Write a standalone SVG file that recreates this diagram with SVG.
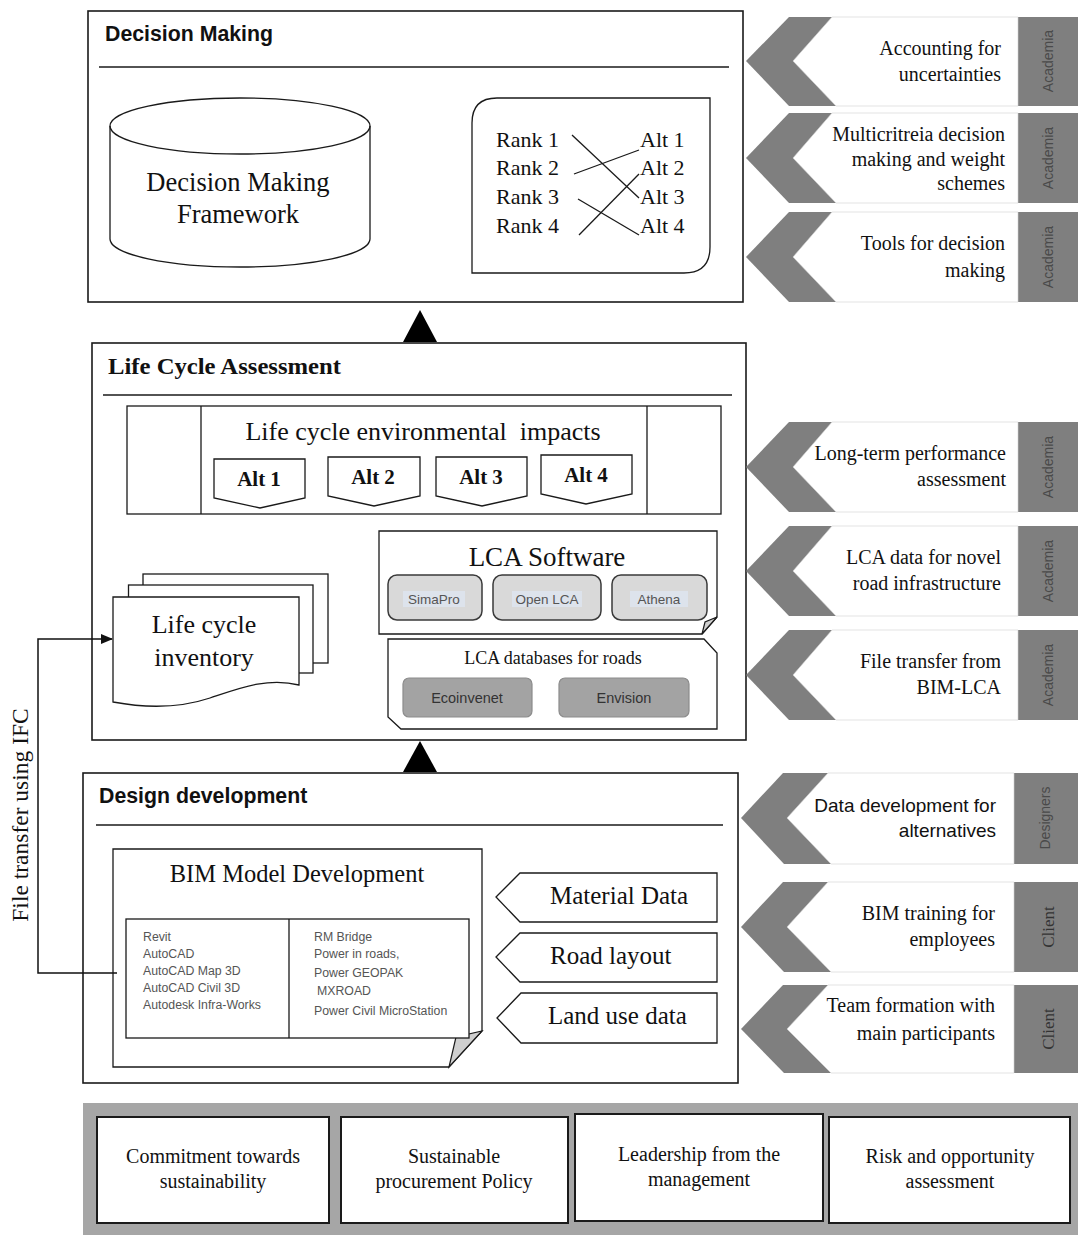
<svg xmlns="http://www.w3.org/2000/svg" width="1078" height="1235" viewBox="0 0 1078 1235">
  <defs>
    <marker id="arrowhead" markerWidth="12" markerHeight="10" refX="11" refY="5" orient="auto" markerUnits="userSpaceOnUse">
      <path d="M0,0 L12,5 L0,10 Z" fill="#111"/>
    </marker>
  </defs>
  <style>
    .box{fill:#fff;stroke:#1a1a1a;stroke-width:1.6}
    .thin{fill:#fff;stroke:#1a1a1a;stroke-width:1.3}
    .rule{stroke:#1a1a1a;stroke-width:1.5}
    .serif{font-family:"Liberation Serif","Times New Roman",serif;fill:#111}
    .title{font-family:"Liberation Sans",Arial,sans-serif;font-weight:bold;font-size:21.3px;fill:#111}
    .btitle{font-family:"Liberation Serif","Times New Roman",serif;font-weight:bold;font-size:23.5px;fill:#111}
    .mid{text-anchor:middle}
    .chev{fill:#7f7f7f}
    .side{fill:#a6a6a6}
    .card{fill:#fff;stroke:#d0d0d0;stroke-width:0.6}
    .ctext{font-family:"Liberation Serif","Times New Roman",serif;font-size:20px;fill:#111;text-anchor:end}
    .csans{font-family:"Liberation Sans",Arial,sans-serif;font-size:19px;fill:#111;text-anchor:end}
    .role{font-family:"Liberation Sans",Arial,sans-serif;font-size:14px;fill:#4a4a4a;text-anchor:middle}
    .rolecl{font-family:"Liberation Serif","Times New Roman",serif;font-size:17px;fill:#333;text-anchor:middle}
    .rank{font-family:"Liberation Serif","Times New Roman",serif;font-size:22px;fill:#111}
    .sw{fill:#d9d9d9;stroke:#3a3a3a;stroke-width:1.5}
    .hl{fill:#dde3ec}
    .swt{font-family:"Liberation Sans",Arial,sans-serif;font-size:13.5px;fill:#555;text-anchor:middle}
    .db{fill:#a3a3a3;stroke:#8c8c8c;stroke-width:1.2}
    .dbt{font-family:"Liberation Sans",Arial,sans-serif;font-size:14.5px;fill:#333;text-anchor:middle}
    .list{font-family:"Liberation Sans",Arial,sans-serif;font-size:12.3px;fill:#555}
    .altt{font-family:"Liberation Serif","Times New Roman",serif;font-weight:bold;font-size:21px;fill:#111;text-anchor:middle}
    .fold{fill:#cfcfcf;stroke:#1a1a1a;stroke-width:1.2}
    .btm{fill:#fff;stroke:#1a1a1a;stroke-width:2}
    .btext{font-family:"Liberation Serif","Times New Roman",serif;font-size:20px;fill:#111;text-anchor:middle}
  </style>

  <rect x="0" y="0" width="1078" height="1235" fill="#fff"/>

  <!-- Decision making stage -->
  <g id="decision-making">
    <rect class="box" x="88" y="11" width="655" height="291"/>
    <text class="title" x="105" y="41">Decision Making</text>
    <line class="rule" x1="99" y1="67" x2="729" y2="67"/>
  </g>

  <g id="decision-framework">
    <path class="thin" d="M110,126 A130,28 0 0 1 370,126 V239 A130,28 0 0 1 110,239 Z"/>
    <path d="M110,126 A130,28 0 0 0 370,126" fill="none" stroke="#1a1a1a" stroke-width="1.3"/>
    <text class="serif mid" x="238" y="191" font-size="26.5">Decision Making</text>
    <text class="serif mid" x="238" y="223" font-size="26.5">Framework</text>
  </g>

  <g id="ranking">
    <path class="thin" d="M472,273 V123 Q472,98 497,98 H710 V247 Q710,273 684,273 Z"/>
    <text class="rank" x="496" y="147">Rank 1</text>
    <text class="rank" x="496" y="175">Rank 2</text>
    <text class="rank" x="496" y="204">Rank 3</text>
    <text class="rank" x="496" y="233">Rank 4</text>
    <text class="rank" x="640" y="147">Alt 1</text>
    <text class="rank" x="640" y="175">Alt 2</text>
    <text class="rank" x="640" y="204">Alt 3</text>
    <text class="rank" x="640" y="233">Alt 4</text>
    <g stroke="#1a1a1a" stroke-width="1.3">
      <line x1="572" y1="135" x2="639" y2="198"/>
      <line x1="574" y1="174" x2="639" y2="150"/>
      <line x1="578" y1="199" x2="639" y2="235"/>
      <line x1="579" y1="235" x2="639" y2="174"/>
    </g>
  </g>

  <!-- Life cycle assessment stage -->
  <g id="life-cycle-assessment">
    <rect class="box" x="92" y="343" width="654" height="397"/>
    <text class="btitle" x="108" y="374" textLength="233" lengthAdjust="spacingAndGlyphs">Life Cycle Assessment</text>
    <line class="rule" x1="103" y1="395" x2="732" y2="395"/>
  </g>

  <g id="environmental-impacts">
    <rect class="thin" x="127" y="406" width="594" height="108"/>
    <line x1="201" y1="406" x2="201" y2="514" stroke="#1a1a1a" stroke-width="1.3"/>
    <line x1="647" y1="406" x2="647" y2="514" stroke="#1a1a1a" stroke-width="1.3"/>
    <text class="serif mid" x="423" y="440" font-size="26">Life cycle environmental&#160; impacts</text>
    <path class="thin" d="M214,459 H305 V498 L260,508 L214,498 Z"/>
    <path class="thin" d="M328,457 H420 V496 L374,506 L328,496 Z"/>
    <path class="thin" d="M436,457 H527 V496 L482,506 L436,496 Z"/>
    <path class="thin" d="M541,455 H632 V494 L586,504 L541,494 Z"/>
    <text class="altt" x="259" y="486">Alt 1</text>
    <text class="altt" x="373" y="484">Alt 2</text>
    <text class="altt" x="481" y="484">Alt 3</text>
    <text class="altt" x="586" y="482">Alt 4</text>
  </g>

  <g id="lca-software">
    <path class="thin" d="M379,531 H717 V617 L702,634 H379 Z"/>
    <path class="fold" d="M717,617 L702,634 L705,622 Z"/>
    <text class="serif mid" x="547" y="566" font-size="27">LCA Software</text>
    <rect class="sw" x="388" y="575" width="94" height="45" rx="9"/>
    <rect class="sw" x="493" y="575" width="108" height="45" rx="9"/>
    <rect class="sw" x="612" y="575" width="95" height="45" rx="9"/>
    <rect class="hl" x="403" y="591" width="62" height="16"/>
    <rect class="hl" x="512" y="591" width="70" height="16"/>
    <rect class="hl" x="630" y="591" width="58" height="16"/>
    <text class="swt" x="434" y="604">SimaPro</text>
    <text class="swt" x="547" y="604">Open LCA</text>
    <text class="swt" x="659" y="604">Athena</text>
  </g>

  <g id="lca-databases">
    <path class="thin" d="M388,639 H704 L717,653 V729 H401 L388,717 Z"/>
    <text class="serif mid" x="553" y="664" font-size="18">LCA databases for roads</text>
    <rect class="db" x="403" y="678" width="129" height="39" rx="6"/>
    <rect class="db" x="559" y="678" width="130" height="39" rx="6"/>
    <text class="dbt" x="467" y="703">Ecoinvenet</text>
    <text class="dbt" x="624" y="703">Envision</text>
  </g>

  <g id="life-cycle-inventory">
    <rect class="thin" x="143" y="574" width="185" height="89"/>
    <rect class="thin" x="128.5" y="585" width="184.5" height="88"/>
    <path class="thin" d="M113,597 H299 V685 C268,677 240,688 210,698 C180,708 145,708 113,702 Z"/>
    <text class="serif mid" x="204" y="633" font-size="26">Life cycle</text>
    <text class="serif mid" x="204" y="666" font-size="26">inventory</text>
  </g>

  <!-- Design development stage -->
  <g id="design-development">
    <rect class="box" x="83" y="773" width="655" height="310"/>
    <text class="title" x="99" y="803" font-size="22">Design development</text>
    <line class="rule" x1="96" y1="825" x2="723" y2="825"/>
  </g>

  <g id="bim-model">
    <path class="thin" d="M113,849 H482 V1031 L449,1067 H113 Z"/>
    <path class="fold" d="M482,1031 L449,1067 L456,1037 Z"/>
    <text class="serif mid" x="297" y="882" font-size="24.5">BIM Model Development</text>
    <rect class="thin" x="126" y="919" width="343" height="119"/>
    <line x1="289" y1="919" x2="289" y2="1038" stroke="#1a1a1a" stroke-width="1.3"/>
    <text class="list" x="143" y="941">Revit</text>
    <text class="list" x="143" y="958">AutoCAD</text>
    <text class="list" x="143" y="975">AutoCAD Map 3D</text>
    <text class="list" x="143" y="992">AutoCAD Civil 3D</text>
    <text class="list" x="143" y="1009">Autodesk Infra-Works</text>
    <text class="list" x="314" y="941">RM Bridge</text>
    <text class="list" x="314" y="958">Power in roads,</text>
    <text class="list" x="314" y="977">Power GEOPAK</text>
    <text class="list" x="317" y="995">MXROAD</text>
    <text class="list" x="314" y="1015">Power Civil MicroStation</text>
  </g>

  <g id="material-data">
    <path class="thin" d="M496,897 L520,873 H717 V922 H520 Z"/>
    <text class="serif" x="550" y="904" font-size="25">Material Data</text>
  </g>
  <g id="road-layout">
    <path class="thin" d="M496,957 L520,933 H717 V982 H520 Z"/>
    <text class="serif" x="550" y="964" font-size="25">Road layout</text>
  </g>
  <g id="land-use-data">
    <path class="thin" d="M497,1018 L521,993 H717 V1043 H521 Z"/>
    <text class="serif" x="548" y="1024" font-size="25">Land use data</text>
  </g>

  <!-- Connectors between stages -->
  <g id="connectors">
    <path d="M420,310 L437,342 L403,342 Z" fill="#000"/>
    <path d="M420,741 L437,772 L403,772 Z" fill="#000"/>
    <polyline points="117,973 38,973 38,639 112,639" fill="none" stroke="#111" stroke-width="1.5" marker-end="url(#arrowhead)"/>
    <text class="serif mid" transform="translate(28,815) rotate(-90)" font-size="23.5">File transfer using IFC</text>
  </g>

  <!-- Research needs attached to each stage -->
  <g id="need-uncertainties">
    <path class="chev" d="M746,61 L789,17 H1078 V106 H789 Z"/>
    <path class="card" d="M793,61 L832,17 H1018 V106 H836 Z"/>
    <text class="ctext" x="1001" y="55">Accounting for</text>
    <text class="ctext" x="1001" y="81">uncertainties</text>
    <text class="role" transform="translate(1053,61) rotate(-90)">Academia</text>
  </g>
  <g id="need-multicriteria">
    <path class="chev" d="M746,158 L789,113 H1078 V203 H789 Z"/>
    <path class="card" d="M793,158 L832,113 H1018 V203 H836 Z"/>
    <text class="ctext" x="1005" y="141">Multicritreia decision</text>
    <text class="ctext" x="1005" y="166">making and weight</text>
    <text class="ctext" x="1005" y="190">schemes</text>
    <text class="role" transform="translate(1053,158) rotate(-90)">Academia</text>
  </g>
  <g id="need-tools">
    <path class="chev" d="M746,257 L789,212 H1078 V302 H789 Z"/>
    <path class="card" d="M793,257 L832,212 H1018 V302 H836 Z"/>
    <text class="ctext" x="1005" y="250">Tools for decision</text>
    <text class="ctext" x="1005" y="277">making</text>
    <text class="role" transform="translate(1053,257) rotate(-90)">Academia</text>
  </g>
  <g id="need-long-term">
    <path class="chev" d="M746,467 L789,422 H1078 V512 H789 Z"/>
    <path class="card" d="M793,467 L832,422 H1018 V512 H836 Z"/>
    <text class="ctext" x="1006" y="460">Long-term performance</text>
    <text class="ctext" x="1006" y="486">assessment</text>
    <text class="role" transform="translate(1053,467) rotate(-90)">Academia</text>
  </g>
  <g id="need-lca-data">
    <path class="chev" d="M746,571 L789,526 H1078 V616 H789 Z"/>
    <path class="card" d="M793,571 L832,526 H1018 V616 H836 Z"/>
    <text class="ctext" x="1001" y="564">LCA data for novel</text>
    <text class="ctext" x="1001" y="590">road infrastructure</text>
    <text class="role" transform="translate(1053,571) rotate(-90)">Academia</text>
  </g>
  <g id="need-file-transfer">
    <path class="chev" d="M746,675 L789,630 H1078 V720 H789 Z"/>
    <path class="card" d="M793,675 L832,630 H1018 V720 H836 Z"/>
    <text class="ctext" x="1001" y="668">File transfer from</text>
    <text class="ctext" x="1001" y="694">BIM-LCA</text>
    <text class="role" transform="translate(1053,675) rotate(-90)">Academia</text>
  </g>
  <g id="need-data-development">
    <path class="chev" d="M741,818 L783,773 H1078 V864 H784 Z"/>
    <path class="card" d="M787,818 L828,773 H1014 V864 H831 Z"/>
    <text class="csans" x="996" y="812">Data development for</text>
    <text class="csans" x="996" y="837">alternatives</text>
    <text class="role" transform="translate(1050,818) rotate(-90)">Designers</text>
  </g>
  <g id="need-bim-training">
    <path class="chev" d="M741,927 L783,882 H1078 V972 H784 Z"/>
    <path class="card" d="M787,927 L828,882 H1014 V972 H831 Z"/>
    <text class="ctext" x="995" y="920">BIM training for</text>
    <text class="ctext" x="995" y="946">employees</text>
    <text class="rolecl" transform="translate(1054,927) rotate(-90)">Client</text>
  </g>
  <g id="need-team-formation">
    <path class="chev" d="M741,1029 L783,985 H1078 V1073 H784 Z"/>
    <path class="card" d="M787,1029 L828,985 H1014 V1073 H831 Z"/>
    <text class="ctext" x="995" y="1012">Team formation with</text>
    <text class="ctext" x="995" y="1040">main participants</text>
    <text class="rolecl" transform="translate(1054,1029) rotate(-90)">Client</text>
  </g>

  <!-- Organisational foundations -->
  <g id="foundations">
    <rect x="83" y="1103" width="995" height="132" fill="#a6a6a6"/>
  </g>
  <g id="commitment">
    <rect class="btm" x="97" y="1117" width="232" height="106"/>
    <text class="btext" x="213" y="1163">Commitment towards</text>
    <text class="btext" x="213" y="1188">sustainability</text>
  </g>
  <g id="procurement">
    <rect class="btm" x="341" y="1117" width="227" height="106"/>
    <text class="btext" x="454" y="1163">Sustainable</text>
    <text class="btext" x="454" y="1188">procurement Policy</text>
  </g>
  <g id="leadership">
    <rect class="btm" x="575" y="1114" width="248" height="107"/>
    <text class="btext" x="699" y="1161">Leadership from the</text>
    <text class="btext" x="699" y="1186">management</text>
  </g>
  <g id="risk">
    <rect class="btm" x="829" y="1117" width="241" height="106"/>
    <text class="btext" x="950" y="1163">Risk and opportunity</text>
    <text class="btext" x="950" y="1188">assessment</text>
  </g>
</svg>
